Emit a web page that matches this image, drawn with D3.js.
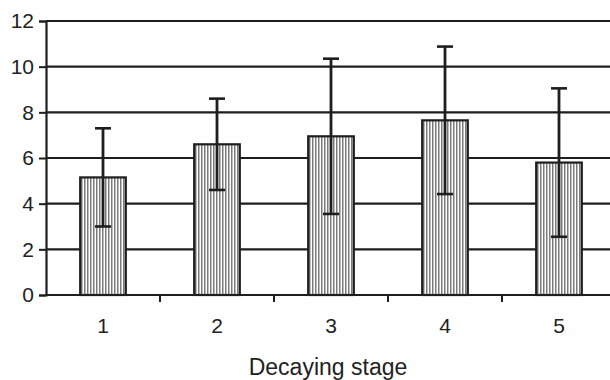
<!DOCTYPE html>
<html>
<head>
<meta charset="utf-8">
<script src="https://cdn.jsdelivr.net/npm/d3@7"></script>
<style>
  body { margin: 0; background: #fff; }
  text { font-family: "Liberation Sans", Arial, sans-serif; fill: #222; }
</style>
</head>
<body>
<div id="chart"></div>
<script>
// data
const stages = ["1", "2", "3", "4", "5"];
const means = [5.15, 6.6, 6.95, 7.65, 5.8];
const errs = [2.15, 2.0, 3.4, 3.23, 3.25];
const yTicks = [0, 2, 4, 6, 8, 10, 12];

const width = 610, height = 380;
const margin = { top: 21, right: -6, bottom: 85, left: 46 };

const svg = d3.select("#chart")
  .append("svg")
  .attr("width", width)
  .attr("height", height);

// vertical stripe fill for the bars
const pat = svg.append("defs").append("pattern")
  .attr("id", "stripes")
  .attr("patternUnits", "userSpaceOnUse")
  .attr("width", 3)
  .attr("height", 10);
pat.append("rect").attr("width", 3).attr("height", 10).attr("fill", "#fff");
pat.append("rect").attr("x", 0).attr("width", 1.5).attr("height", 10).attr("fill", "#7a7a7a");

const x = d3.scaleBand()
  .domain(stages)
  .range([margin.left, width - margin.right])
  .paddingInner(0.6)
  .paddingOuter(0.3);

const y = d3.scaleLinear()
  .domain([0, 12])
  .range([height - margin.bottom, margin.top]);

// horizontal gridlines
svg.append("g")
  .selectAll("line")
  .data(yTicks.filter(d => d > 0))
  .enter()
  .append("line")
  .attr("x1", margin.left)
  .attr("x2", width)
  .attr("y1", d => y(d))
  .attr("y2", d => y(d))
  .attr("stroke", "#1e1e1e")
  .attr("stroke-width", 2.2);

// y axis
const yAxis = svg.append("g")
  .attr("transform", `translate(${margin.left},0)`)
  .call(d3.axisLeft(y).tickValues(yTicks).tickSize(7).tickPadding(5));
yAxis.select(".domain").attr("stroke", "#1e1e1e").attr("stroke-width", 2.2);
yAxis.selectAll(".tick line").attr("stroke", "#1e1e1e").attr("stroke-width", 2);
yAxis.selectAll(".tick text")
  .attr("font-size", 21)
  .attr("font-family", "Liberation Sans, Arial, sans-serif")
  .attr("fill", "#222");

// bars
svg.append("g")
  .selectAll("rect")
  .data(means)
  .enter()
  .append("rect")
  .attr("x", (d, i) => x(stages[i]))
  .attr("y", d => y(d))
  .attr("width", x.bandwidth())
  .attr("height", d => y(0) - y(d))
  .attr("fill", "url(#stripes)")
  .attr("stroke", "#1e1e1e")
  .attr("stroke-width", 2.2);

// error bars
const eb = svg.append("g")
  .selectAll("g")
  .data(means)
  .enter()
  .append("g");
eb.append("line")
  .attr("x1", (d, i) => x(stages[i]) + x.bandwidth() / 2)
  .attr("x2", (d, i) => x(stages[i]) + x.bandwidth() / 2)
  .attr("y1", (d, i) => y(d + errs[i]))
  .attr("y2", (d, i) => y(d - errs[i]))
  .attr("stroke", "#1e1e1e")
  .attr("stroke-width", 2.8);
[1, -1].forEach(s => {
  eb.append("line")
    .attr("x1", (d, i) => x(stages[i]) + x.bandwidth() / 2 - 8)
    .attr("x2", (d, i) => x(stages[i]) + x.bandwidth() / 2 + 8)
    .attr("y1", (d, i) => y(d + s * errs[i]))
    .attr("y2", (d, i) => y(d + s * errs[i]))
    .attr("stroke", "#1e1e1e")
    .attr("stroke-width", 2.6);
});

// x axis with ticks between categories
const xAxis = svg.append("g");
xAxis.append("line")
  .attr("x1", margin.left)
  .attr("x2", width)
  .attr("y1", y(0))
  .attr("y2", y(0))
  .attr("stroke", "#1e1e1e")
  .attr("stroke-width", 2.2);
xAxis.selectAll(".sep")
  .data(stages.slice(1))
  .enter()
  .append("line")
  .attr("class", "sep")
  .attr("x1", d => x(d) - x.step() * x.paddingInner() / 2)
  .attr("x2", d => x(d) - x.step() * x.paddingInner() / 2)
  .attr("y1", y(0))
  .attr("y2", y(0) + 7)
  .attr("stroke", "#1e1e1e")
  .attr("stroke-width", 2);
xAxis.selectAll(".lab")
  .data(stages)
  .enter()
  .append("text")
  .attr("class", "lab")
  .attr("x", d => x(d) + x.bandwidth() / 2)
  .attr("y", y(0) + 38)
  .attr("text-anchor", "middle")
  .attr("font-size", 21)
  .text(d => d);

svg.append("text")
  .attr("x", 328)
  .attr("y", 375)
  .attr("text-anchor", "middle")
  .attr("font-size", 23)
  .text("Decaying stage");
</script>
</body>
</html>
